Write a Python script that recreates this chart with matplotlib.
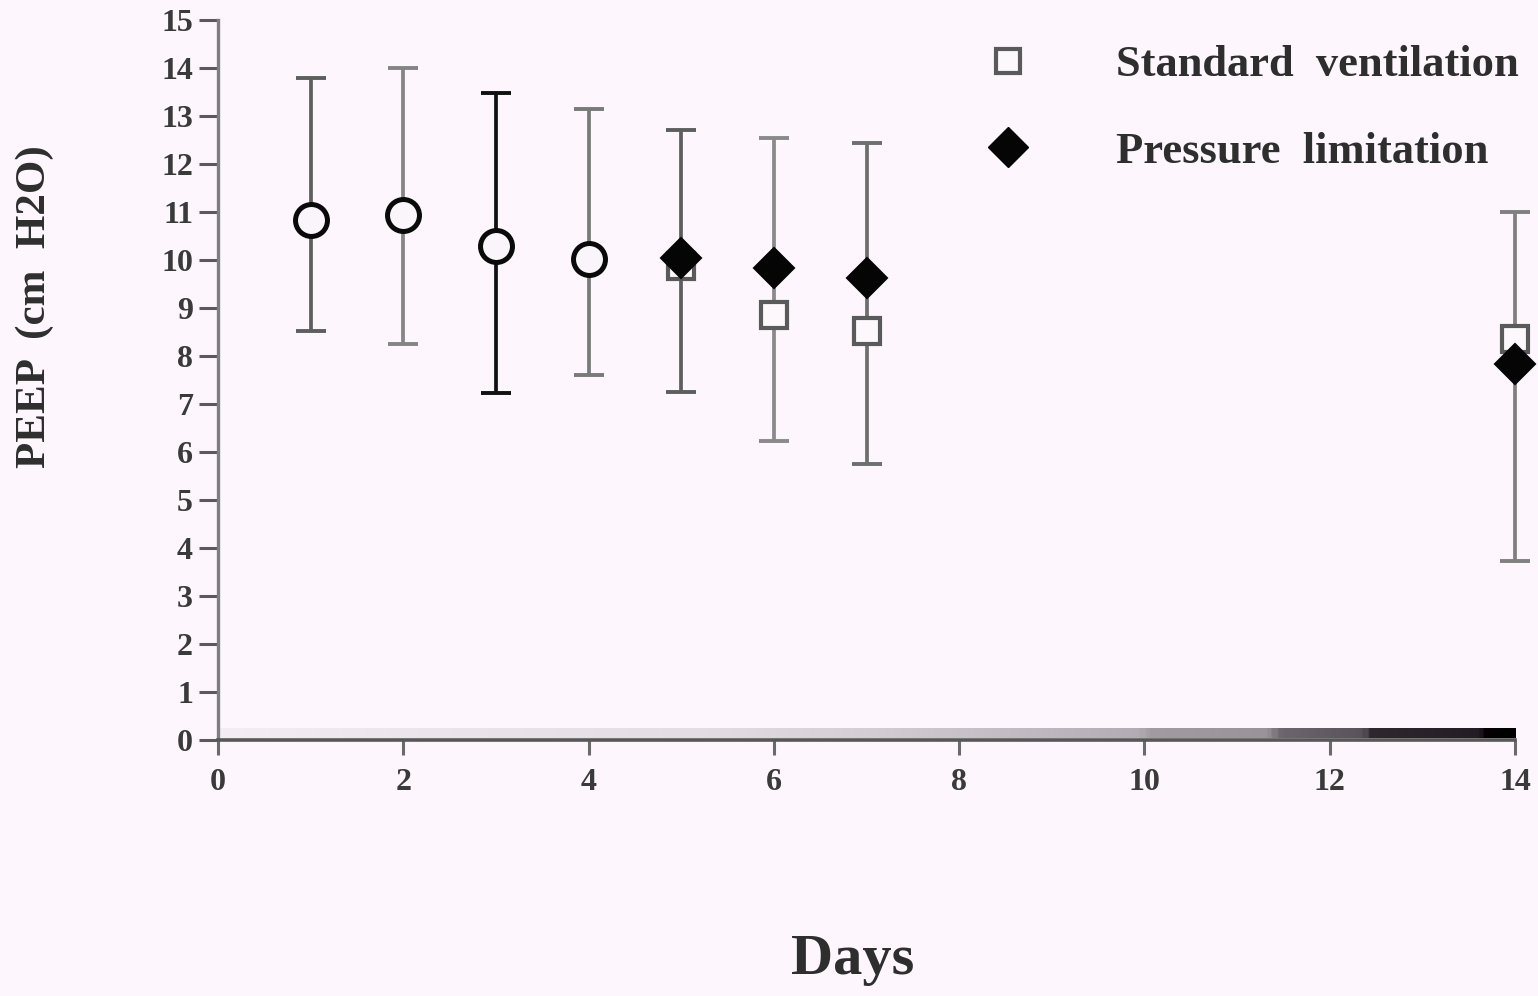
import matplotlib
matplotlib.use("Agg")
import matplotlib.pyplot as plt
import numpy as np
from matplotlib.colors import LinearSegmentedColormap
from matplotlib.lines import Line2D

# ---- data -------------------------------------------------------------
# Days 1-4: both groups coincide (pooled open circle)
pooled_days = [1, 2, 3, 4]
pooled_peep = [10.83, 10.93, 10.30, 10.02]

# Days 5-14: groups shown separately
split_days = [5, 6, 7, 14]
standard_peep = [9.88, 8.85, 8.53, 8.36]
pressure_peep = [10.05, 9.83, 9.63, 7.84]

# Error bar bounds at each day
bar_days = [1, 2, 3, 4, 5, 6, 7, 14]
bar_upper = [13.80, 14.00, 13.47, 13.15, 12.70, 12.55, 12.43, 11.00]
bar_lower = [8.52, 8.25, 7.22, 7.60, 7.25, 6.23, 5.76, 3.72]
bar_colors = ["#5e5e5e", "#858585", "#111111", "#7a7a7a",
              "#5e5e5e", "#8a8a8a", "#6e6e6e", "#808080"]

x_ticks = [0, 2, 4, 6, 8, 10, 12, 14]
y_ticks = list(range(0, 16))

legend_labels = ["Standard  ventilation", "Pressure  limitation"]
x_label = "Days"
y_label = "PEEP  (cm  H2O)"

# ---- figure -----------------------------------------------------------
bg = "#fdf7fd"
serif = ["Liberation Serif", "DejaVu Serif"]
W, H = 1538, 996
fig = plt.figure(figsize=(W / 100, H / 100), dpi=100, facecolor=bg)
ax = fig.add_axes([218 / W, (H - 740) / H, (1515 - 218) / W, 720 / H])
ax.set_facecolor(bg)

# shaded strip running along the baseline
strip_cmap = LinearSegmentedColormap.from_list(
    "strip",
    [(0.00, "#f4eef4"), (0.15, "#ece6ec"), (0.37, "#e4dee4"),
     (0.49, "#d6cfd6"), (0.71, "#b4acb4"), (0.72, "#a29ca2"),
     (0.81, "#9a949a"), (0.82, "#6e666e"), (0.885, "#5a525a"),
     (0.89, "#30282f"), (0.975, "#241c24"), (0.98, "#050005"),
     (1.00, "#000000")])
ax.imshow(np.linspace(0, 1, 600)[None, :], cmap=strip_cmap, aspect="auto",
          extent=(0, 14, 0.04, 0.24), zorder=1.5, interpolation="bilinear")

# error bars
for d, lo, hi, c in zip(bar_days, bar_lower, bar_upper, bar_colors):
    mid = (lo + hi) / 2
    ax.errorbar([d], [mid], yerr=[[mid - lo], [hi - mid]], fmt="none",
                ecolor=c, elinewidth=2.7, capsize=11, capthick=2.8,
                zorder=2, clip_on=False)

# markers
ax.plot(pooled_days, pooled_peep, linestyle="none", marker="o",
        markersize=23, markerfacecolor="#faf5fa", markeredgecolor="#0a0a0a",
        markeredgewidth=3.6, zorder=4, clip_on=False)
ax.plot(split_days, standard_peep, linestyle="none", marker="s",
        markersize=19, markerfacecolor="#fcf8fc", markeredgecolor="#5a5a5a",
        markeredgewidth=3.0, zorder=4, clip_on=False)
ax.plot(split_days, pressure_peep, linestyle="none", marker="D",
        markersize=20, markerfacecolor="#050505", markeredgecolor="#050505",
        markeredgewidth=1.5, zorder=5, clip_on=False)

# axes
ax.set_xlim(0, 14)
ax.set_ylim(0, 15)
ax.set_xticks(x_ticks)
ax.set_yticks(y_ticks)
ax.set_xticklabels([str(t) for t in x_ticks])
ax.set_yticklabels([str(t) for t in y_ticks])
for s in ("top", "right"):
    ax.spines[s].set_visible(False)
ax.spines["left"].set_color("#7e7e7e")
ax.spines["left"].set_linewidth(2.4)
ax.spines["bottom"].set_color("#575757")
ax.spines["bottom"].set_linewidth(2.6)
ax.spines["bottom"].set_zorder(3)
ax.tick_params(axis="y", direction="out", length=14, width=2.2,
               color="#5a5a5a", pad=4, labelsize=23, labelcolor="#3a3a3a")
ax.tick_params(axis="x", direction="out", length=11, width=2.2,
               color="#6a6a6a", pad=9, labelsize=23, labelcolor="#3a3a3a")
for lab in ax.get_xticklabels() + ax.get_yticklabels():
    lab.set_family(serif)
    lab.set_fontweight("bold")

# legend
handles = [
    Line2D([], [], linestyle="none", marker="s", markersize=17,
           markerfacecolor="#fcf8fc", markeredgecolor="#5a5a5a",
           markeredgewidth=3.0),
    Line2D([], [], linestyle="none", marker="D", markersize=20,
           markerfacecolor="#050505", markeredgecolor="#050505"),
]
fig.legend(handles, legend_labels, loc="upper left",
           bbox_to_anchor=(967 / W, 1 - 45 / H), frameon=False,
           prop={"family": serif, "size": 32, "weight": "bold"},
           labelcolor="#2e2e2e", handlelength=1.85, handletextpad=1.5,
           labelspacing=1.05, borderpad=0, borderaxespad=0)

# axis titles
fig.text(35 / W, 1 - 307 / H, y_label, rotation=90, ha="center",
         va="center", family=serif, fontsize=31, fontweight="bold",
         color="#2e2e2e")
fig.text(853 / W, 1 - 960 / H, x_label, ha="center", va="center",
         family=serif, fontsize=42, fontweight="bold", color="#2e2e2e")

fig.savefig("out.png", dpi=100, facecolor=bg)
